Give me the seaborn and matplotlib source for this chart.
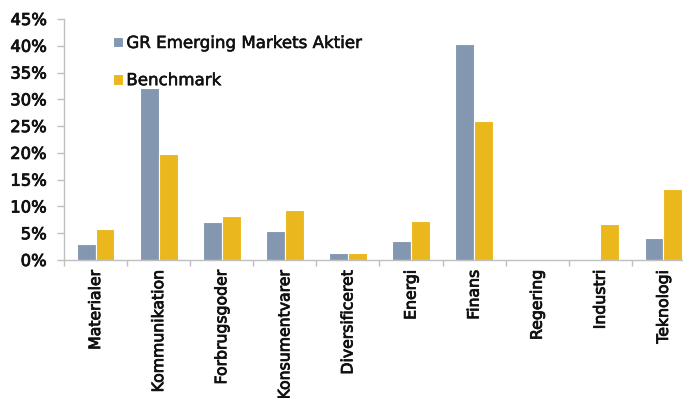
import matplotlib
matplotlib.use("Agg")
import matplotlib.pyplot as plt
import matplotlib.patheffects as pe
import seaborn as sns
import pandas as pd
from matplotlib.ticker import FixedLocator, FuncFormatter

categories = ["Materialer", "Kommunikation", "Forbrugsgoder", "Konsumentvarer",
              "Diversificeret", "Energi", "Finans", "Regering", "Industri", "Teknologi"]
fund = [2.9, 32.1, 7.1, 5.5, 1.3, 3.5, 40.3, 0.0, 0.0, 4.1]
benchmark = [5.7, 19.8, 8.2, 9.3, 1.25, 7.2, 26.0, 0.2, 6.7, 13.2]
series_names = ["GR Emerging Markets Aktier", "Benchmark"]
colors = ["#8497B0", "#EAB81C"]
y_ticks = [0, 5, 10, 15, 20, 25, 30, 35, 40, 45]

df = pd.DataFrame({
    "Sektor": categories * 2,
    "Andel": fund + benchmark,
    "Serie": [series_names[0]] * len(categories) + [series_names[1]] * len(categories),
})

sns.set_theme(style="white")
plt.rcParams["font.family"] = ["DejaVu Sans"]

fig = plt.figure(figsize=(6.83, 3.98), dpi=100)
ax = fig.add_axes([64 / 683, (398 - 260) / 398, 1 - 64 / 683, (260 - 19) / 398])

sns.barplot(data=df, x="Sektor", y="Andel", hue="Serie", order=categories,
            hue_order=series_names, palette=colors, width=0.6, saturation=1,
            edgecolor="white", linewidth=0.8, ax=ax, legend=True)

ax.set_xlim(-0.5, 9.31)
ax.set_ylim(0, 45)
ax.yaxis.set_major_locator(FixedLocator(y_ticks))
ax.yaxis.set_major_formatter(FuncFormatter(lambda v, p: f"{int(v)}%"))
ax.set_xlabel("")
ax.set_ylabel("")

for s in ["top", "right"]:
    ax.spines[s].set_visible(False)
for s in ["left", "bottom"]:
    ax.spines[s].set_color("#BFBFBF")
    ax.spines[s].set_linewidth(1.0)

txt_color = "#111111"
heavy = [pe.withStroke(linewidth=0.6, foreground=txt_color)]
ax.tick_params(axis="y", which="major", length=5, width=1, color="#BFBFBF",
               labelsize=11.8, labelcolor=txt_color, pad=7.5, left=True)
ax.tick_params(axis="x", which="major", length=0, labelsize=11.3,
               labelcolor=txt_color, pad=7, labelrotation=90)
for lab in ax.get_xticklabels() + ax.get_yticklabels():
    lab.set_path_effects(heavy)
ax.set_xticks([i - 0.5 for i in range(len(categories))], minor=True)
ax.tick_params(axis="x", which="minor", length=4, width=1, color="#BFBFBF", bottom=True)

handles, labels = ax.get_legend_handles_labels()
leg = ax.legend(handles, labels, frameon=False, loc="upper left",
                bbox_to_anchor=(113 / 683, (398 - 34) / 398), bbox_transform=fig.transFigure,
                borderaxespad=0, borderpad=0, handlelength=0.6, handleheight=0.6,
                handletextpad=0.2, labelspacing=1.15, fontsize=12,
                labelcolor=txt_color)
for t in leg.get_texts():
    t.set_path_effects([pe.withStroke(linewidth=0.4, foreground=txt_color)])

fig.savefig("out.png", dpi=100)
